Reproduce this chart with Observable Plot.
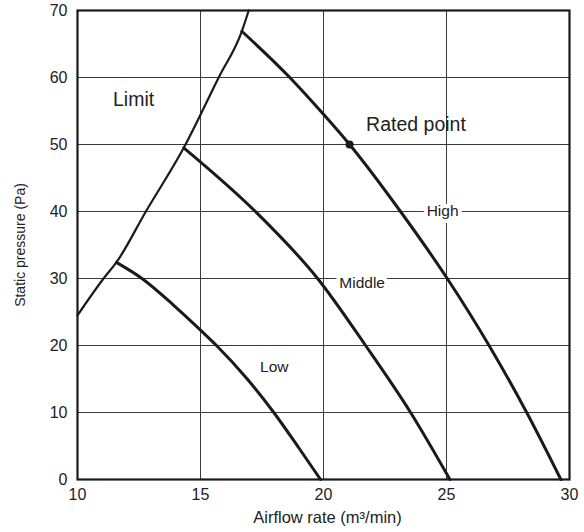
<!DOCTYPE html>
<html>
<head>
<meta charset="utf-8">
<script src="https://cdn.jsdelivr.net/npm/d3@7"></script>
<script src="https://cdn.jsdelivr.net/npm/@observablehq/plot@0.6"></script>
<style>
  html, body { margin: 0; padding: 0; background: #fff; }
  svg { font-family: "Liberation Sans", Arial, sans-serif; }
</style>
</head>
<body>
<div id="chart"></div>
<script>
// Tick values
const xTicks = [10, 15, 20, 25, 30];
const yTicks = [0, 10, 20, 30, 40, 50, 60, 70];

// Limit curve
const limitX = [10, 11.06, 11.58, 12.78, 14.32, 15.74, 16.68, 16.96];
const limitY = [24.5, 30, 32.4, 40, 49.5, 60, 66.9, 70];

// Low fan speed curve
const lowX = [11.58, 12.62, 13.91, 15, 15.65, 16.9, 17.98, 19.0, 19.88];
const lowY = [32.4, 30, 26.0, 22.3, 20, 15.0, 10, 4.7, 0];

// Middle fan speed curve
const midX = [14.32, 17.23, 19.76, 21.71, 23.54, 25.14];
const midY = [49.5, 40, 30, 20, 10, 0];

// High fan speed curve
const highX = [16.68, 18.63, 20, 21.06, 23.13, 25.03, 26.73, 28.26, 29.65];
const highY = [66.9, 60, 54.5, 50, 40, 30, 20, 10, 0];

// Rated point
const ratedX = [21.06];
const ratedY = [50];

// Annotation labels
const labelText = ["Limit", "Rated point", "High", "Middle", "Low"];
const labelX = [12.28, 23.76, 24.84, 21.57, 18.0];
const labelY = [56.7, 52.9, 40, 29.3, 16.8];

const toPts = (xs, ys) => xs.map((x, i) => ({x, y: ys[i]}));
const limit = toPts(limitX, limitY);
const low = toPts(lowX, lowY);
const mid = toPts(midX, midY);
const high = toPts(highX, highY);
const rated = toPts(ratedX, ratedY);
const labels = labelText.map((t, i) => ({t, x: labelX[i], y: labelY[i]}));
const bigLabels = labels.slice(0, 2);
const boxLabels = labels.slice(2, 4);
const plainLabels = labels.slice(4);

const chart = Plot.plot({
  width: 584,
  height: 532,
  marginLeft: 77,
  marginRight: 15,
  marginTop: 10,
  marginBottom: 53,
  style: {fontFamily: "'Liberation Sans', Arial, sans-serif", background: "#fff", color: "#222"},
  x: {domain: [10, 30]},
  y: {domain: [0, 70]},
  marks: [
    Plot.gridX(xTicks.slice(1, -1), {stroke: "#3a3a3a", strokeOpacity: 1, strokeWidth: 1}),
    Plot.gridY(yTicks.slice(1, -1), {stroke: "#3a3a3a", strokeOpacity: 1, strokeWidth: 1}),
    Plot.axisX(xTicks, {tickSize: 0, tickPadding: 9, fontSize: 16, label: null, fill: "#222"}),
    Plot.axisY(yTicks, {tickSize: 0, tickPadding: 10, fontSize: 16, label: null, fill: "#222"}),
    Plot.line(limit, {x: "x", y: "y", curve: "monotone-x", stroke: "#1a1a1a", strokeWidth: 2.2}),
    Plot.line(low, {x: "x", y: "y", curve: "monotone-x", stroke: "#1a1a1a", strokeWidth: 3}),
    Plot.line(mid, {x: "x", y: "y", curve: "monotone-x", stroke: "#1a1a1a", strokeWidth: 3}),
    Plot.line(high, {x: "x", y: "y", curve: "monotone-x", stroke: "#1a1a1a", strokeWidth: 3}),
    Plot.frame({stroke: "#1a1a1a", strokeWidth: 2.2}),
    Plot.dot(rated, {x: "x", y: "y", r: 4, fill: "#1a1a1a"}),
    Plot.text(bigLabels, {x: "x", y: "y", text: "t", fontSize: 19.5, fill: "#222"}),
    Plot.text(boxLabels, {x: "x", y: "y", text: "t", fontSize: 15.5, fill: "#222", stroke: "white", strokeWidth: 8, strokeLinejoin: "miter"}),
    Plot.text(plainLabels, {x: "x", y: "y", text: "t", fontSize: 15.5, fill: "#222"}),
    Plot.text(["Static pressure (Pa)"], {frameAnchor: "left", textAnchor: "middle", lineAnchor: "middle", rotate: -90, dx: -57, fontSize: 14, fill: "#222"}),
    Plot.text(["Airflow rate (m³/min)"], {frameAnchor: "bottom", textAnchor: "middle", lineAnchor: "middle", dy: 38, dx: 4, fontSize: 16.5, fill: "#222"})
  ]
});
document.getElementById("chart").appendChild(chart);
</script>
</body>
</html>
